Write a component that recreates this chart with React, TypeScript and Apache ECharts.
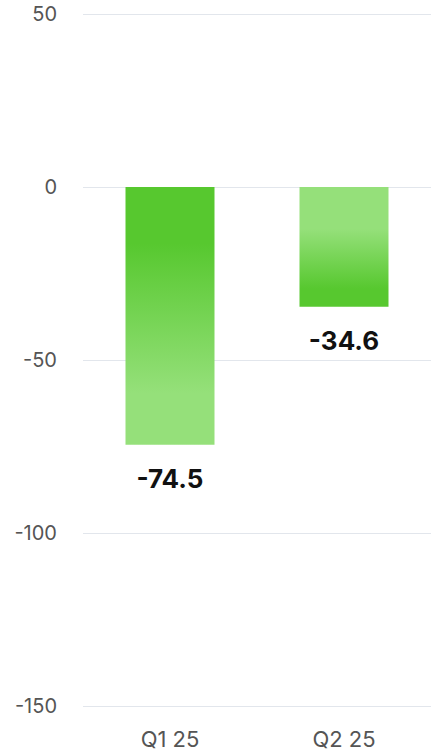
import React, { useEffect, useRef } from "react";
import * as echarts from "echarts";

const categories = ["Q1 25", "Q2 25"];
const values = [-74.5, -34.6];
const yMin = -150;
const yMax = 50;
const yInterval = 50;

const DARK = "#57c82f";
const LIGHT = "#95e07a";

export default function App() {
  const ref = useRef<HTMLDivElement>(null);
  useEffect(() => {
    document.body.style.margin = "0";
    if (!ref.current) return;
    const chart = echarts.init(ref.current, null, { renderer: "svg" });
    const gradients = [
      new echarts.graphic.LinearGradient(0, 0, 0, 1, [
        { offset: 0, color: DARK },
        { offset: 0.22, color: DARK },
        { offset: 0.8, color: LIGHT },
        { offset: 1, color: LIGHT },
      ]),
      new echarts.graphic.LinearGradient(0, 0, 0, 1, [
        { offset: 0, color: LIGHT },
        { offset: 0.35, color: LIGHT },
        { offset: 0.85, color: DARK },
        { offset: 1, color: DARK },
      ]),
    ];
    chart.setOption({
      animation: false,
      grid: { left: 83, right: -2, top: 14, bottom: 49, containLabel: false },
      xAxis: {
        type: "category",
        data: categories,
        axisLine: { show: false },
        axisTick: { show: false },
        axisLabel: {
          color: "#555",
          fontFamily: "Inter",
          fontSize: 22,
          margin: 22,
        },
      },
      yAxis: {
        type: "value",
        min: yMin,
        max: yMax,
        interval: yInterval,
        axisLine: { show: false },
        axisTick: { show: false },
        splitLine: { lineStyle: { color: "#e2e6ec", width: 1 } },
        axisLabel: {
          color: "#555",
          fontFamily: "Inter",
          fontSize: 20,
          margin: 26,
        },
      },
      series: [
        {
          type: "bar",
          barWidth: 89,
          data: values.map((v, i) => ({
            value: v,
            itemStyle: { color: gradients[i] },
          })),
          label: {
            show: true,
            position: "bottom",
            distance: 21,
            color: "#111",
            fontFamily: "Inter",
            fontWeight: "bold",
            fontSize: 26,
            formatter: (p: any) => String(p.value),
          },
        },
      ],
    });
    return () => chart.dispose();
  }, []);
  return <div ref={ref} style={{ width: 431, height: 755 }} />;
}
